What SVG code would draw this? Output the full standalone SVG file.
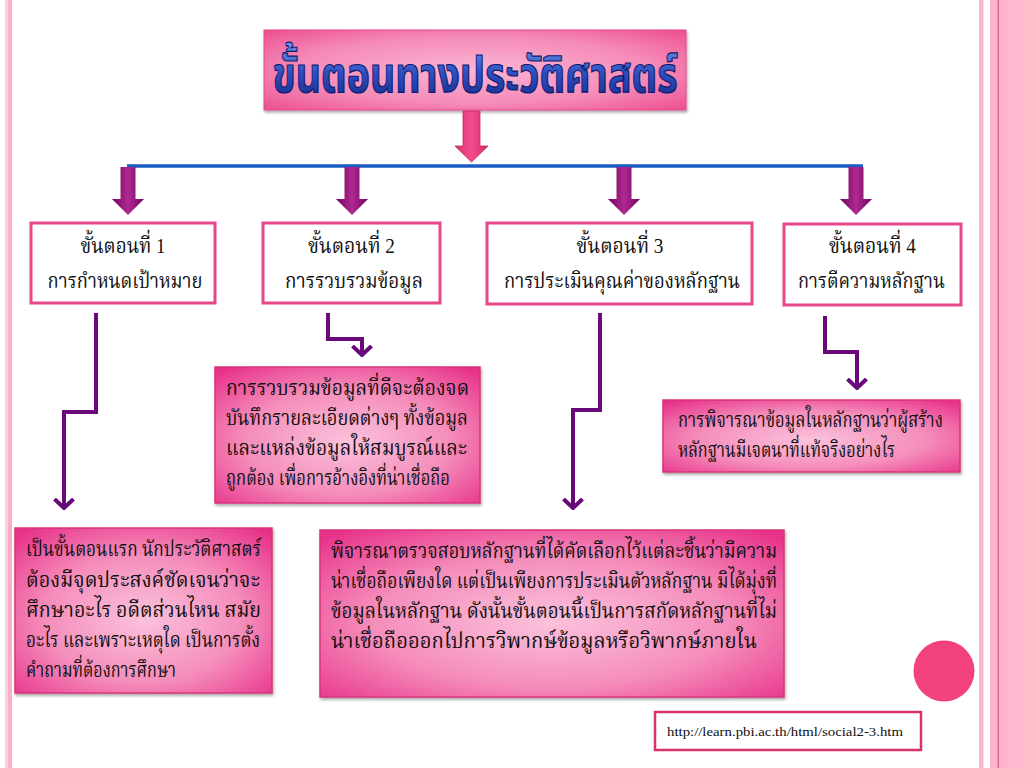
<svg xmlns="http://www.w3.org/2000/svg" width="1024" height="768" viewBox="0 0 1024 768">
<style>
.step{fill:#ffffff;stroke:#e8468a;stroke-width:3}
.desc{stroke:#d8347a;stroke-width:1.5}
.t{font-family:"Liberation Serif","Noto Serif Thai","Noto Sans Thai",serif;fill:#111}
.st{font-size:22px;text-anchor:middle}
.dt{font-size:21px}
.conn{fill:none;stroke:#68087a;stroke-width:4;stroke-linejoin:miter}
</style>
<defs>
<radialGradient id="gPink" cx="50%" cy="55%" r="70%">
<stop offset="0" stop-color="#fbc2dc"/>
<stop offset="0.55" stop-color="#f58dbb"/>
<stop offset="1" stop-color="#e8338a"/>
</radialGradient>
<radialGradient id="gTitle" cx="50%" cy="50%" r="70%">
<stop offset="0" stop-color="#fbb6d4"/>
<stop offset="0.6" stop-color="#f58ab8"/>
<stop offset="1" stop-color="#ec4f90"/>
</radialGradient>
<linearGradient id="gTitleText" x1="0" y1="0" x2="0" y2="1">
<stop offset="0" stop-color="#6f9af0"/>
<stop offset="0.5" stop-color="#2f4fc0"/>
<stop offset="1" stop-color="#152a8a"/>
</linearGradient>
<linearGradient id="gPurple" x1="0" y1="0" x2="1" y2="0">
<stop offset="0" stop-color="#6e0660"/>
<stop offset="0.5" stop-color="#b0288f"/>
<stop offset="1" stop-color="#6e0660"/>
</linearGradient>
<linearGradient id="gPinkArrow" x1="0" y1="0" x2="1" y2="0">
<stop offset="0" stop-color="#e0306f"/>
<stop offset="0.5" stop-color="#f24c8c"/>
<stop offset="1" stop-color="#d82c6c"/>
</linearGradient>
<filter id="shadow" x="-5%" y="-5%" width="112%" height="115%">
<feDropShadow dx="1" dy="2" stdDeviation="1.5" flood-color="#000" flood-opacity="0.35"/>
</filter>
<marker id="chev" viewBox="0 0 12 22" refX="10" refY="11" markerUnits="userSpaceOnUse" markerWidth="12" markerHeight="22" orient="auto">
<path d="M1,1.5 L10,11 L1,20.5" fill="none" stroke="#68087a" stroke-width="4"/>
</marker>
<path id="purpleArrow" d="M-7.5,0 L7.5,0 L7.5,32 L16,32 L0,48 L-16,32 L-7.5,32 Z"/>
</defs>

<rect width="1024" height="768" fill="#ffffff"/>

<g id="border">
<rect x="5" y="0" width="3" height="768" fill="#fbd3df"/>
<rect x="8" y="0" width="4" height="768" fill="#fcb0c6"/>
<rect x="979" y="0" width="4.5" height="768" fill="#fbb3c8"/>
<rect x="990" y="0" width="34" height="768" fill="#fcb4c9"/>
<rect x="1007" y="0" width="17" height="768" fill="#fdbacf"/>
<rect x="997.5" y="0" width="1.5" height="768" fill="#e7609a"/>
</g>

<g id="title">
<rect x="264" y="30" width="422" height="80" fill="url(#gTitle)" stroke="#e8488a" stroke-width="1" filter="url(#shadow)"/>
<text x="475" y="92" font-family="'Liberation Sans','Noto Sans Thai',sans-serif" font-size="50" font-weight="bold" text-anchor="middle" fill="url(#gTitleText)" stroke="#0e1a6e" stroke-width="1.2" textLength="405" lengthAdjust="spacingAndGlyphs">ขั้นตอนทางประวัติศาสตร์</text>
</g>

<g id="connectors">
<path d="M463,111 L480,111 L480,146 L488,146 L471.5,162 L455,146 L463,146 Z" fill="url(#gPinkArrow)" stroke="#c8245f" stroke-width="0.8"/>
<line x1="127" y1="166" x2="863" y2="166" stroke="#1a5cc4" stroke-width="3.5"/>
<use href="#purpleArrow" x="128" y="167" fill="url(#gPurple)"/>
<use href="#purpleArrow" x="352" y="167" fill="url(#gPurple)"/>
<use href="#purpleArrow" x="624" y="167" fill="url(#gPurple)"/>
<use href="#purpleArrow" x="856" y="167" fill="url(#gPurple)"/>
<path class="conn" d="M96,313 L96,412 L64,412 L64,508" marker-end="url(#chev)"/>
<path class="conn" d="M328,313 L328,339 L362,339 L362,355" marker-end="url(#chev)"/>
<path class="conn" d="M600,313 L600,410 L573,410 L573,508" marker-end="url(#chev)"/>
<path class="conn" d="M825,316 L825,352 L857,352 L857,388" marker-end="url(#chev)"/>
</g>

<g id="step1">
<rect class="step" x="31" y="223" width="184" height="80"/>
<text class="t st" x="123" y="253" textLength="85" lengthAdjust="spacingAndGlyphs">ขั้นตอนที่ 1</text>
<text class="t st" x="125" y="288" textLength="155" lengthAdjust="spacingAndGlyphs">การกำหนดเป้าหมาย</text>
</g>
<g id="step2">
<rect class="step" x="263" y="223" width="177" height="80"/>
<text class="t st" x="351.5" y="253" textLength="87" lengthAdjust="spacingAndGlyphs">ขั้นตอนที่ 2</text>
<text class="t st" x="354" y="288" textLength="138" lengthAdjust="spacingAndGlyphs">การรวบรวมข้อมูล</text>
</g>
<g id="step3">
<rect class="step" x="487" y="223" width="265" height="81"/>
<text class="t st" x="620" y="253" textLength="87" lengthAdjust="spacingAndGlyphs">ขั้นตอนที่ 3</text>
<text class="t st" x="622" y="288" textLength="236" lengthAdjust="spacingAndGlyphs">การประเมินคุณค่าของหลักฐาน</text>
</g>
<g id="step4">
<rect class="step" x="784" y="224" width="177" height="81"/>
<text class="t st" x="872.5" y="253" textLength="87" lengthAdjust="spacingAndGlyphs">ขั้นตอนที่ 4</text>
<text class="t st" x="871.5" y="288" textLength="147" lengthAdjust="spacingAndGlyphs">การตีความหลักฐาน</text>
</g>

<g id="desc2">
<rect class="desc" x="215" y="367" width="265" height="136" fill="url(#gPink)" filter="url(#shadow)"/>
<text class="t dt" x="226" y="395" textLength="243" lengthAdjust="spacingAndGlyphs">การรวบรวมข้อมูลที่ดีจะต้องจด</text>
<text class="t dt" x="226" y="425" textLength="242" lengthAdjust="spacingAndGlyphs">บันทึกรายละเอียดต่างๆ ทั้งข้อมูล</text>
<text class="t dt" x="226" y="455" textLength="241" lengthAdjust="spacingAndGlyphs">และแหล่งข้อมูลให้สมบูรณ์และ</text>
<text class="t dt" x="226" y="485" textLength="224" lengthAdjust="spacingAndGlyphs">ถูกต้อง เพื่อการอ้างอิงที่น่าเชื่อถือ</text>
</g>

<g id="desc4">
<rect class="desc" x="663" y="400" width="297" height="72" fill="url(#gPink)" filter="url(#shadow)"/>
<text class="t dt" x="678" y="427" textLength="265" lengthAdjust="spacingAndGlyphs">การพิจารณาข้อมูลในหลักฐานว่าผู้สร้าง</text>
<text class="t dt" x="678" y="457" textLength="217" lengthAdjust="spacingAndGlyphs">หลักฐานมีเจตนาที่แท้จริงอย่างไร</text>
</g>

<g id="desc1">
<rect class="desc" x="15" y="528" width="257" height="165" fill="url(#gPink)" filter="url(#shadow)"/>
<text class="t dt" x="26" y="556" textLength="235" lengthAdjust="spacingAndGlyphs">เป็นขั้นตอนแรก นักประวัติศาสตร์</text>
<text class="t dt" x="26" y="587" textLength="234" lengthAdjust="spacingAndGlyphs">ต้องมีจุดประสงค์ชัดเจนว่าจะ</text>
<text class="t dt" x="26" y="617" textLength="235" lengthAdjust="spacingAndGlyphs">ศึกษาอะไร อดีตส่วนไหน สมัย</text>
<text class="t dt" x="26" y="647" textLength="234" lengthAdjust="spacingAndGlyphs">อะไร และเพราะเหตุใด เป็นการตั้ง</text>
<text class="t dt" x="26" y="677" textLength="150" lengthAdjust="spacingAndGlyphs">คำถามที่ต้องการศึกษา</text>
</g>

<g id="desc3">
<rect class="desc" x="320" y="530" width="464" height="167" fill="url(#gPink)" filter="url(#shadow)"/>
<text class="t dt" x="331" y="558" textLength="446" lengthAdjust="spacingAndGlyphs">พิจารณาตรวจสอบหลักฐานที่ได้คัดเลือกไว้แต่ละชิ้นว่ามีความ</text>
<text class="t dt" x="331" y="588" textLength="446" lengthAdjust="spacingAndGlyphs">น่าเชื่อถือเพียงใด แต่เป็นเพียงการประเมินตัวหลักฐาน มิได้มุ่งที่</text>
<text class="t dt" x="331" y="618" textLength="446" lengthAdjust="spacingAndGlyphs">ข้อมูลในหลักฐาน ดังนั้นขั้นตอนนี้เป็นการสกัดหลักฐานที่ไม่</text>
<text class="t dt" x="331" y="648" textLength="426" lengthAdjust="spacingAndGlyphs">น่าเชื่อถือออกไปการวิพากษ์ข้อมูลหรือวิพากษ์ภายใน</text>
</g>

<g id="dot">
<circle cx="944" cy="671" r="30.5" fill="#f2417f"/>
</g>

<g id="source">
<rect x="655" y="712" width="266" height="38" fill="#ffffff" stroke="#d8306e" stroke-width="2.5"/>
<text class="t" x="667" y="736" font-size="13" textLength="236" lengthAdjust="spacingAndGlyphs">http://learn.pbi.ac.th/html/social2-3.htm</text>
</g>
</svg>
